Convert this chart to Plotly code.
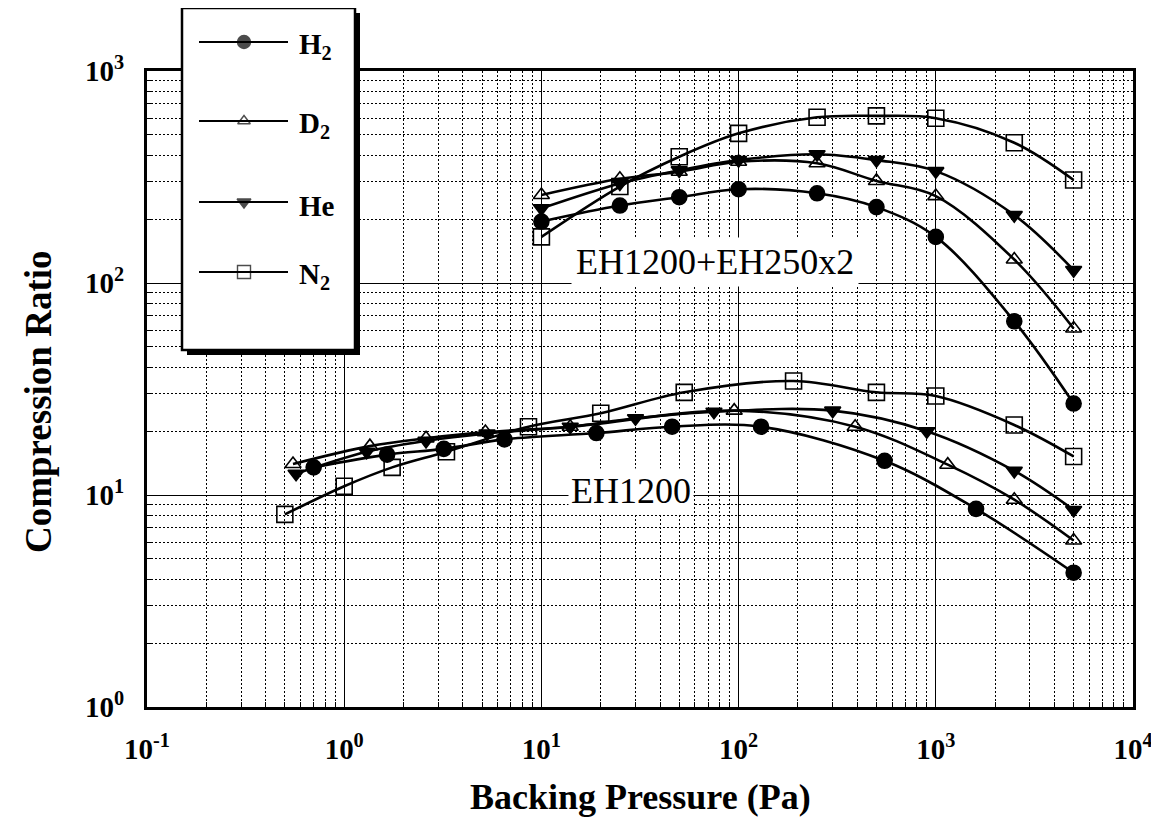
import plotly.graph_objects as go

# ---------------- data ----------------
# lower group: EH1200
h2_lo_x = [0.7, 1.65, 3.2, 6.5, 19, 46, 130, 550, 1600, 5000]
h2_lo_y = [13.5, 15.5, 16.5, 18.3, 19.6, 21, 21, 14.5, 8.6, 4.3]

d2_lo_x = [0.55, 1.35, 2.6, 5.2, 14, 95, 390, 1150, 2500, 5000]
d2_lo_y = [14, 17, 18.5, 19.8, 21, 25, 21, 13.9, 9.5, 6.1]

he_lo_x = [0.57, 1.3, 2.6, 5.3, 14, 30, 75, 300, 900, 2500, 5000]
he_lo_y = [12.6, 16, 18, 19.5, 21, 23, 24.7, 25, 20, 13, 8.5]

n2_lo_x = [0.5, 1.0, 1.75, 3.3, 8.6, 20, 53, 190, 500, 1000, 2500, 5000]
n2_lo_y = [8.1, 11, 13.5, 16, 21, 24.3, 30.5, 34.5, 30.5, 29.3, 21.4, 15.2]

# upper group: EH1200+EH250x2
up_x = [10, 25, 50, 100, 250, 500, 1000, 2500, 5000]
h2_up_y = [195, 232, 254, 277, 265, 228, 165, 66, 27]
d2_up_y = [260, 310, 335, 373, 367, 303, 257, 129, 61]
he_up_y = [225, 295, 340, 380, 405, 380, 337, 209, 115]
n2_up_y = [165, 285, 394, 508, 605, 614, 599, 459, 306]

gas_names = ["H<sub>2</sub>", "D<sub>2</sub>", "He", "N<sub>2</sub>"]
x_tick_vals = [0.1, 1, 10, 100, 1000, 10000]
x_tick_text = ["10<sup>-1</sup>", "10<sup>0</sup>", "10<sup>1</sup>",
               "10<sup>2</sup>", "10<sup>3</sup>", "10<sup>4</sup>"]
y_tick_vals = [1, 10, 100, 1000]
y_tick_text = ["10<sup>0</sup>", "10<sup>1</sup>", "10<sup>2</sup>", "10<sup>3</sup>"]
group_labels = ["EH1200+EH250x2", "EH1200"]
x_title = "Backing Pressure (Pa)"
y_title = "Compression Ratio"

# ---------------- layout geometry (screen pixels; page body adds an 8px offset) ----------------
SERIF = "Liberation Serif"
OFF = 8
W, H = 1159 - OFF, 831 - OFF
P_LEFT, P_RIGHT, P_TOP, P_BOT = 147, 1133, 71, 707          # plot area on screen
ML = P_LEFT - OFF
MR = W - (P_RIGHT - OFF)
MB = H - (P_BOT - OFF)
MT = 0
PAPER_H = H - MT - MB
PAPER_W = W - ML - MR


def py(screen_y):
    return (P_BOT - screen_y) / PAPER_H


def px(screen_x):
    return (screen_x - P_LEFT) / PAPER_W


styles = [
    dict(symbol="circle", size=15),
    dict(symbol="triangle-up-open", size=14),
    dict(symbol="triangle-down", size=14),
    dict(symbol="square-open", size=16),
]
lower = [(h2_lo_x, h2_lo_y), (d2_lo_x, d2_lo_y), (he_lo_x, he_lo_y), (n2_lo_x, n2_lo_y)]
upper = [h2_up_y, d2_up_y, he_up_y, n2_up_y]

fig = go.Figure()

for i, name in enumerate(gas_names):
    st = styles[i]
    mk = dict(symbol=st["symbol"], size=st["size"], color="black",
              line=dict(width=1.6, color="black"))
    lx, ly = lower[i]
    fig.add_trace(go.Scatter(x=lx, y=ly, mode="lines+markers", name=name,
                             line=dict(color="black", width=2.6, shape="spline", smoothing=1.0),
                             marker=mk, showlegend=False, xaxis="x", yaxis="y"))
    fig.add_trace(go.Scatter(x=up_x, y=upper[i], mode="lines+markers", name=name,
                             line=dict(color="black", width=2.6, shape="spline", smoothing=1.0),
                             marker=mk, showlegend=False, xaxis="x", yaxis="y"))

# ---------------- custom legend on a screen-pixel overlay subplot ----------------
leg_left, leg_right, leg_top, leg_bot = 182, 355, 8, 350
leg_rows = [42, 121, 202, 272]
line_x0, line_x1, mark_x, text_x = 199, 288, 244, 297
leg_sizes = [13, 11, 12, 13]

shapes = [
    dict(type="rect", xref="x2", yref="y2", x0=leg_left + 5, x1=leg_right + 5,
         y0=leg_top + 5, y1=leg_bot + 5, fillcolor="black", line=dict(width=0), layer="below"),
    dict(type="rect", xref="x2", yref="y2", x0=leg_left, x1=leg_right,
         y0=leg_top, y1=leg_bot, fillcolor="white", line=dict(width=2.5, color="black"), layer="below"),
]

annotations = []
for i, name in enumerate(gas_names):
    st = styles[i]
    yy = leg_rows[i]
    fig.add_trace(go.Scatter(
        x=[line_x0, mark_x, line_x1], y=[yy, yy, yy], mode="lines+markers",
        line=dict(color="black", width=2),
        marker=dict(symbol=st["symbol"], size=[0, leg_sizes[i], 0], color="black",
                    line=dict(width=1.4, color="black")),
        showlegend=False, xaxis="x2", yaxis="y2", hoverinfo="skip"))
    annotations.append(dict(xref="x2", yref="y2", x=text_x, y=yy + 4, text=name,
                            showarrow=False, xanchor="left", yanchor="middle",
                            font=dict(family=SERIF, size=29, color="black", weight="bold")))

# group labels
annotations.append(dict(xref="x", yref="y", x=1.878, y=2.10, text=group_labels[0],
                        showarrow=False, bgcolor="white", borderpad=4,
                        font=dict(family=SERIF, size=36, color="black")))
annotations.append(dict(xref="x", yref="y", x=1.452, y=1.02, text=group_labels[1],
                        showarrow=False, bgcolor="white", borderpad=2,
                        font=dict(family=SERIF, size=36, color="black")))

# axis titles
annotations.append(dict(xref="paper", yref="paper", x=px(640), y=py(797),
                        text=x_title, showarrow=False, xanchor="center", yanchor="middle",
                        font=dict(family=SERIF, size=36, color="black", weight="bold")))
annotations.append(dict(xref="paper", yref="paper", x=px(38), y=py(402),
                        text=y_title, showarrow=False, textangle=-90, xanchor="center", yanchor="middle",
                        font=dict(family=SERIF, size=37, color="black", weight="bold")))

minor_vals = [m * 10 ** e for e in range(-1, 4) for m in range(2, 10)]
minor_y_vals = [m * 10 ** e for e in range(0, 3) for m in range(2, 10)]

axis_common = dict(
    type="log", showline=True, linewidth=3, linecolor="black", mirror=True,
    showgrid=True, gridcolor="black", gridwidth=1, zeroline=False, automargin=False,
    ticks="inside", ticklen=8, tickcolor="black",
    tickfont=dict(family=SERIF, size=29, color="black", weight="bold"),
)
minor_common = dict(showgrid=True, griddash="2px,2px", gridcolor="black", gridwidth=1,
                    ticks="inside", ticklen=5, tickcolor="black")

fig.update_layout(
    width=W, height=H,
    margin=dict(l=ML, r=MR, t=MT, b=MB, pad=0),
    paper_bgcolor="white", plot_bgcolor="rgba(0,0,0,0)",
    showlegend=False,
    xaxis=dict(range=[-1, 4], domain=[0, 1], tickmode="array", tickvals=x_tick_vals,
               ticktext=x_tick_text, ticklabelstandoff=14,
               minor=dict(tickmode="array", tickvals=minor_vals, **minor_common),
               **axis_common),
    yaxis=dict(range=[0, 3], domain=[0, py(P_TOP)], tickmode="array",
               tickvals=y_tick_vals, ticktext=y_tick_text, ticklabelstandoff=14,
               minor=dict(tickmode="array", tickvals=minor_y_vals, **minor_common),
               **axis_common),
    xaxis2=dict(range=[P_LEFT, P_RIGHT], domain=[0, 1], anchor="y2", visible=False,
                fixedrange=True, automargin=False),
    yaxis2=dict(range=[P_BOT, P_BOT - PAPER_H], domain=[0, 1], anchor="x2", visible=False,
                fixedrange=True, automargin=False),
    shapes=shapes,
    annotations=annotations,
)

fig.write_html("out.html")
